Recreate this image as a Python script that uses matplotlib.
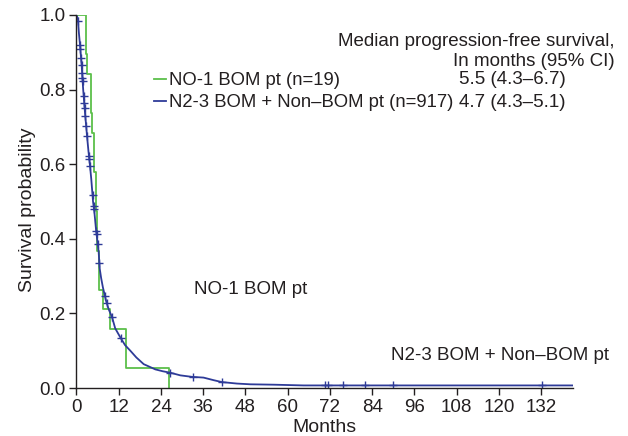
import numpy as np
import matplotlib
matplotlib.use("Agg")
import matplotlib.pyplot as plt

plt.rcParams['font.family'] = ['Liberation Sans', 'DejaVu Sans']

# NO-1 BOM pt (n=19): step times (months) and survival after each step
green_t = [0, 2.6, 2.9, 4.2, 4.4, 4.9, 5.5, 5.9, 6.3, 7.5, 9.4, 14.1, 26.2]
green_s = [1.0, 0.895, 0.842, 0.737, 0.684, 0.579, 0.474, 0.368, 0.263, 0.211, 0.158, 0.053, 0.0]

# N2-3 BOM + Non-BOM pt (n=917): curve
blue_t = [0, 0.4, 0.7, 1.0, 1.5, 1.9, 2.4, 3.0, 3.4, 3.8, 4.2, 4.7, 5.1, 5.6, 6.0,
          6.3, 6.6, 7.0, 7.5, 8.0, 8.5, 9.2, 10.1, 11.0, 12.5, 13.8, 15.3, 17.0,
          19.1, 21.0, 22.4, 24.5, 26.7, 29.5, 32.8, 36.1, 39.0, 41.3, 45.6, 49.4,
          56.0, 64.5, 141.0]
blue_s = [1.0, 0.99, 0.95, 0.92, 0.86, 0.80, 0.74, 0.675, 0.635, 0.60, 0.56, 0.50,
          0.47, 0.42, 0.39, 0.365, 0.32, 0.295, 0.27, 0.25, 0.23, 0.21, 0.19, 0.16,
          0.135, 0.115, 0.10, 0.082, 0.064, 0.056, 0.05, 0.045, 0.041, 0.034, 0.030,
          0.028, 0.021, 0.016, 0.012, 0.010, 0.009, 0.007, 0.007]

# censored observations on the blue curve (months)
censor_t = [0.45, 1.0, 1.1, 1.3, 1.45, 1.6, 1.7, 1.75, 2.05, 2.2, 2.3, 2.5, 2.75,
            3.0, 3.55, 3.65, 3.85, 4.55, 4.85, 4.95, 5.6, 5.7, 6.05, 6.5, 8.1, 8.6,
            10.1, 12.6, 26.5, 33.0, 41.3, 70.5, 71.4, 75.8, 82.1, 90.0, 132.3]

labels = ["NO-1 BOM pt (n=19)", "N2-3 BOM + Non\u2013BOM pt (n=917)"]
medians = ["5.5 (4.3\u20136.7)", "4.7 (4.3\u20135.1)"]

green = "#5cbf4a"
blue = "#2e3b98"
txt = "#231f20"
fs = 13.5

fig = plt.figure(figsize=(6.28, 4.36), dpi=100)
ax = fig.add_axes([0.1218, 0.110, 0.912 - 0.1218, 0.9656 - 0.110])

ax.plot(green_t, green_s, drawstyle="steps-post", color=green, lw=1.3, label=labels[0])
ax.plot(blue_t, blue_s, color=blue, lw=1.3, label=labels[1])
censor_s = np.interp(censor_t, blue_t, blue_s)
ax.plot(censor_t, censor_s, ls="none", marker="+", ms=6, mew=1.0, color=blue)

ax.set_xlim(0, 141)
ax.set_ylim(0, 1.0)
ax.set_xticks(np.arange(0, 133, 12))
ax.set_yticks(np.arange(0, 1.01, 0.2))
ax.set_yticklabels([f"{v:.1f}" for v in np.arange(0, 1.01, 0.2)])
ax.tick_params(direction="out", length=5, width=1, labelsize=13.5, colors=txt, pad=3)
for s in ["top", "right"]:
    ax.spines[s].set_visible(False)
for s in ["left", "bottom"]:
    ax.spines[s].set_color(txt)
    ax.spines[s].set_linewidth(1)

ax.set_xlabel("Months", fontsize=14, color=txt, labelpad=2)
ax.set_ylabel("Survival probability", fontsize=14, color=txt)
ax.yaxis.set_label_coords(-0.082, 0.477)

leg = ax.legend(loc="center left", bbox_to_anchor=(0.156, 0.794), frameon=False,
                fontsize=13.3, handlelength=0.64, handletextpad=0.2, labelspacing=0.27,
                borderaxespad=0, borderpad=0)
for t in leg.get_texts():
    t.set_color(txt)

ax.text(1.085, 0.928, "Median progression-free survival,", transform=ax.transAxes,
        ha="right", va="center", fontsize=fs, color=txt)
ax.text(1.085, 0.876, "In months (95% CI)", transform=ax.transAxes,
        ha="right", va="center", fontsize=fs, color=txt)
ax.text(0.985, 0.827, medians[0], transform=ax.transAxes, ha="right", va="center",
        fontsize=fs, color=txt)
ax.text(0.985, 0.765, medians[1], transform=ax.transAxes, ha="right", va="center",
        fontsize=fs, color=txt)

ax.text(33.5, 0.265, "NO-1 BOM pt", fontsize=fs, color=txt, va="center")
ax.text(89.5, 0.088, "N2-3 BOM + Non\u2013BOM pt", fontsize=fs, color=txt, va="center")

fig.savefig("out.png", dpi=100)
